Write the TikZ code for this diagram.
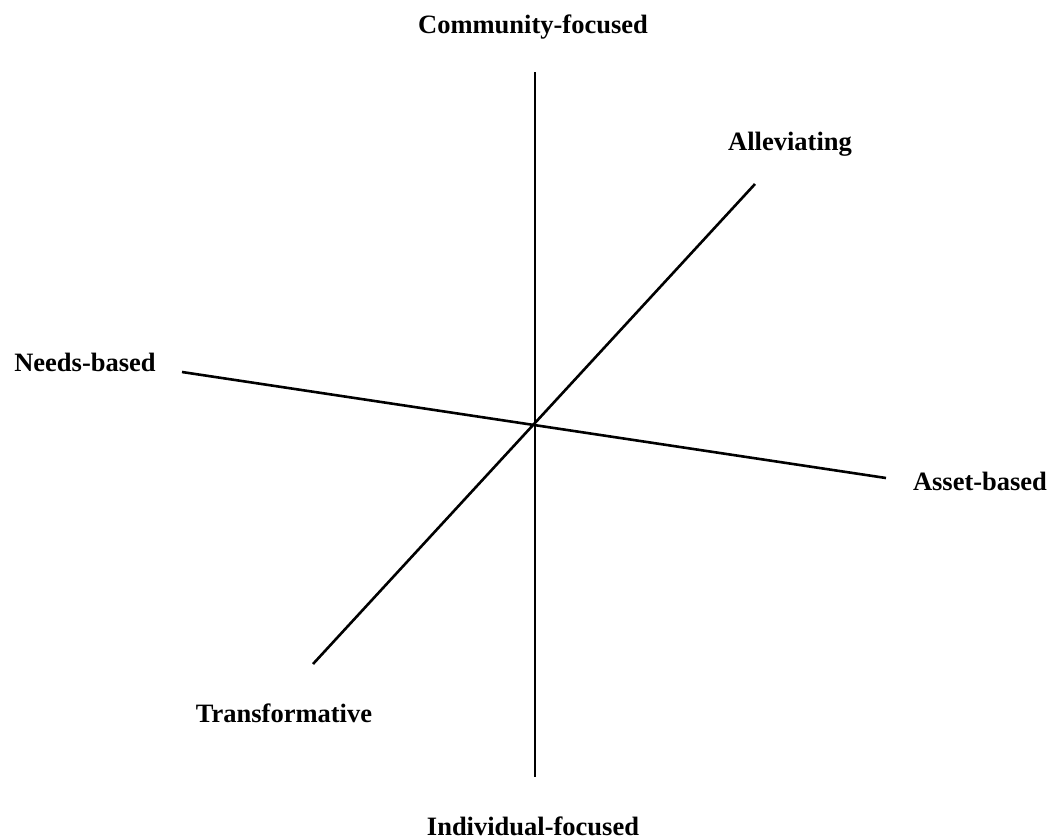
\documentclass[tikz,border=0pt]{standalone}
\usepackage{fontspec}
\setmainfont{Liberation Serif}
\begin{document}
\begin{tikzpicture}[x=1pt,y=-1pt,
  axis/.style={line width=2.6pt},
  lab/.style={font=\fontsize{26.5}{30}\selectfont\bfseries, inner sep=0pt}]
\useasboundingbox (0,0) rectangle (1050,839);
\coordinate (c) at (535,425);
\coordinate (top) at (535,72);
\coordinate (bot) at (535,777);
\coordinate (ne) at (755,184);
\coordinate (sw) at (313,664);
\coordinate (w) at (182,372);
\coordinate (e) at (886,478);
\draw[axis] (top) -- (bot);
\draw[axis] (sw) -- (ne);
\draw[axis] (w) -- (e);
\node[lab] (comm) at (533,27) {Community-focused};
\node[lab] (allev) at (790,144) {Alleviating};
\node[lab] (needs) at (85,362) {Needs-based};
\node[lab] (asset) at (980,481) {Asset-based};
\node[lab] (trans) at (284,713) {Transformative};
\node[lab, anchor=base] (indiv) at (533,835) {Individual-focused};
\end{tikzpicture}
\end{document}
